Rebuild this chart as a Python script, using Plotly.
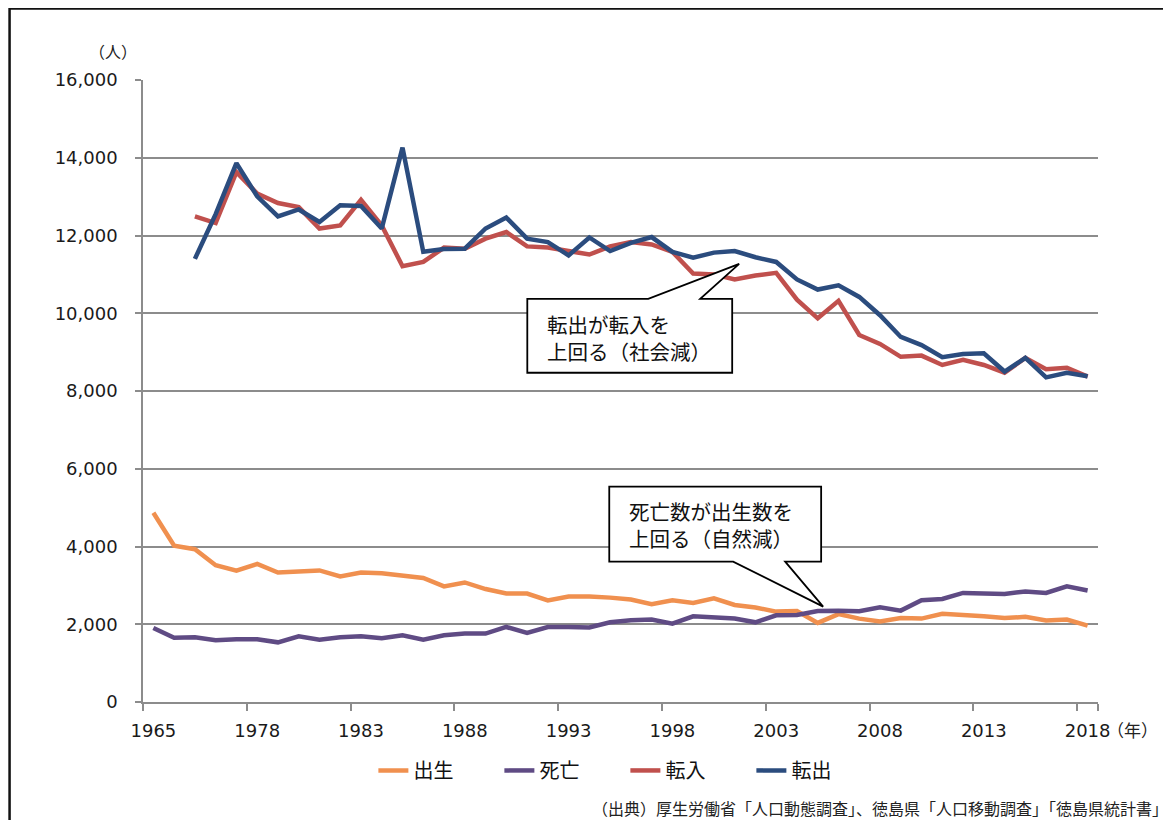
import plotly.graph_objects as go

# ---- data ----
years = ["1965", "1970"] + [str(y) for y in range(1975, 2019)]
tick_years = ["1965", "1978", "1983", "1988", "1993", "1998", "2003", "2008", "2013", "2018"]

births = [4870, 4020, 3930, 3520, 3380, 3550, 3330, 3370, 3385, 3230, 3330, 3310, 3250, 3190,
          2975, 3075, 2905, 2790, 2790, 2615, 2715, 2715, 2685, 2635, 2515, 2615, 2545, 2665,
          2495, 2430, 2325, 2340, 2035, 2260, 2145, 2070, 2160, 2145, 2270, 2245, 2205, 2160,
          2190, 2095, 2120, 1965]
deaths = [1905, 1650, 1665, 1590, 1615, 1615, 1535, 1690, 1600, 1665, 1690, 1640, 1715, 1605,
          1715, 1760, 1760, 1930, 1775, 1930, 1930, 1915, 2050, 2100, 2120, 2015, 2205, 2170,
          2145, 2050, 2230, 2240, 2340, 2350, 2335, 2435, 2350, 2615, 2650, 2805, 2805, 2780,
          2845, 2805, 2975, 2870]
mig_years = years[2:]
inflow = [12490, 12320, 13630, 13080, 12835, 12730, 12180, 12260, 12920, 12260, 11210, 11320,
          11690, 11660, 11920, 12090, 11720, 11690, 11600, 11510, 11720, 11830, 11770, 11580,
          11020, 11000, 10870, 10970, 11040, 10350, 9870, 10320, 9440, 9210, 8880, 8910,
          8670, 8800, 8670, 8470, 8850, 8560, 8600, 8370]
outflow = [11400, 12550, 13860, 13010, 12490, 12670, 12350, 12780, 12760, 12180, 14260, 11580,
           11650, 11660, 12180, 12460, 11920, 11830, 11490, 11950, 11600, 11810, 11960, 11580,
           11430, 11560, 11600, 11440, 11320, 10870, 10610, 10720, 10420, 9950, 9390, 9180,
           8870, 8950, 8970, 8500, 8850, 8350, 8470, 8380]

# ---- layout geometry (page pixels; the page body adds an 8px margin) ----
OFF = 8
W, H = 1171 - OFF, 820 - OFF
PL, PR, PT, PB = 142.5, 1098.0, 80.0, 702.5   # plot area in page pixels


def px(x):
    return (x - PL) / (PR - PL)


def py(y):
    return (PB - y) / (PB - PT)


def path(points):
    return "M " + " L ".join(f"{px(a):.5f},{py(b):.5f}" for a, b in points) + " Z"


JP = "Noto Sans CJK JP"
NUM = "DejaVu Sans"
GRID = "#8c8c8c"

fig = go.Figure()
series = [
    ("出生", years, births, "#F0904F"),
    ("死亡", years, deaths, "#5F4B84"),
    ("転入", mig_years, inflow, "#C0504D"),
    ("転出", mig_years, outflow, "#2B4C7E"),
]
for name, xs, ys, col in series:
    fig.add_trace(go.Scatter(x=xs, y=ys, name=name, mode="lines",
                             line=dict(color=col, width=4.5)))

fig.update_xaxes(type="category", categoryorder="array", categoryarray=years,
                 range=[-0.5, len(years) - 0.5], tickvals=tick_years, tickson="boundaries",
                 tickangle=0, ticklabelstandoff=12,
                 ticks="outside", ticklen=7, tickcolor=GRID, tickwidth=1.5,
                 showline=True, linecolor=GRID, linewidth=1.5, showgrid=False,
                 tickfont=dict(family=NUM, size=18, color="#1a1a1a"))
fig.update_yaxes(range=[0, 16000], dtick=2000, tickformat=",d",
                 ticks="outside", ticklen=6, tickcolor=GRID, tickwidth=1.5,
                 showline=True, linecolor=GRID, linewidth=1.5,
                 showgrid=True, gridcolor=GRID, gridwidth=1.5, zeroline=False,
                 ticklabelstandoff=14,
                 tickfont=dict(family=NUM, size=18, color="#1a1a1a"))

shapes = [
    # outer frame (partially visible)
    dict(type="path", xref="paper", yref="paper",
         path=path([(9, 8.5), (1300, 8.5), (1300, 900), (9, 900)]),
         line=dict(color="#111", width=2.5), fillcolor="rgba(0,0,0,0)", layer="below"),
    # callout 1
    dict(type="path", xref="paper", yref="paper",
         path=path([(527, 299), (648, 299), (739, 264), (700, 299), (732, 299), (732, 373), (527, 373)]),
         line=dict(color="#000", width=1.8), fillcolor="white"),
    # callout 2
    dict(type="path", xref="paper", yref="paper",
         path=path([(609, 487), (821, 487), (821, 562), (785, 562), (823, 607), (733, 562), (609, 562)]),
         line=dict(color="#000", width=1.8), fillcolor="white"),
]

annotations = [
    dict(text="転出が転入を<br>上回る（社会減）", x=px(545), y=py(338), xref="paper", yref="paper",
         xanchor="left", yanchor="middle", align="left", showarrow=False,
         font=dict(family=JP, size=20.5, color="#111")),
    dict(text="死亡数が出生数を<br>上回る（自然減）", x=px(627), y=py(525), xref="paper", yref="paper",
         xanchor="left", yanchor="middle", align="left", showarrow=False,
         font=dict(family=JP, size=20.5, color="#111")),
    dict(text="（人）", x=px(112), y=py(51), xref="paper", yref="paper",
         xanchor="center", yanchor="middle", showarrow=False,
         font=dict(family=JP, size=16, color="#222")),
    dict(text="（年）", x=px(1133), y=py(730), xref="paper", yref="paper",
         xanchor="center", yanchor="middle", showarrow=False,
         font=dict(family=JP, size=17, color="#222")),
    dict(text="（出典）厚生労働省「人口動態調査」、徳島県「人口移動調査」「徳島県統計書」",
         x=px(1170), y=py(809), xref="paper", yref="paper",
         xanchor="right", yanchor="middle", showarrow=False,
         font=dict(family=JP, size=16, color="#222")),
]

fig.update_layout(
    width=W, height=H,
    margin=dict(l=PL - OFF, r=W - (PR - OFF), t=PT - OFF, b=H - (PB - OFF), autoexpand=False),
    paper_bgcolor="white", plot_bgcolor="white",
    showlegend=True,
    legend=dict(orientation="h", x=px(373), y=py(771), xanchor="left", yanchor="middle",
                entrywidth=81, entrywidthmode="pixels",
                font=dict(family=JP, size=20, color="#111"), bgcolor="rgba(0,0,0,0)"),
    shapes=shapes, annotations=annotations,
)

fig.write_html("out.html")
